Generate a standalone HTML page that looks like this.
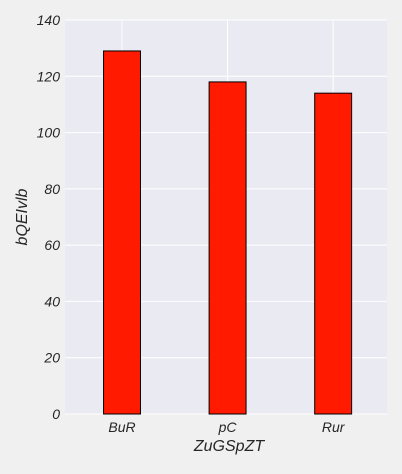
<!DOCTYPE html>
<html><head><meta charset="utf-8"><style>
body{margin:0;background:#f0f0f0;}
svg text{font-family:"Liberation Sans",sans-serif;font-style:italic;fill:#262626;}
</style></head><body>
<svg id="chart" width="402" height="469">
<rect x="0" y="0" width="402" height="469" fill="#f0f0f0"/>
<rect x="65" y="20" width="322" height="394" fill="#eaeaf2"/>
<g id="grid"></g><g id="bars"></g><g id="ticks"></g>
<text x="229" y="451" text-anchor="middle" font-size="16">ZuGSpZT</text>
<text transform="translate(27,217) rotate(-90)" text-anchor="middle" font-size="16">bQEIvlb</text>
</svg>
<script>
const categories=["BuR","pC","Rur"];
const values=[129,118,114];
const yTicks=[0,20,40,60,80,100,120,140];
const L=65,T=20,W=322,H=394,yMax=140,xMin=-0.54,xMax=2.51,barW=0.35;
const ns="http://www.w3.org/2000/svg";
function x(i){return L+(i-xMin)*W/(xMax-xMin);}
function y(v){return T+H-v*H/yMax;}
function mk(t,a,p){const e=document.createElementNS(ns,t);for(const k in a)e.setAttribute(k,a[k]);document.getElementById(p).appendChild(e);return e;}
yTicks.forEach(v=>{
 const g=mk('line',{x1:L,x2:L+W,y1:y(v),y2:y(v),stroke:'#fff','stroke-width':1},'grid');
 
 
 const t=mk('text',{x:L-5,y:y(v)+5,'text-anchor':'end','font-size':'14'},'ticks');
 t.textContent=v;
 
 
});
categories.forEach((c,i)=>{
 const g=mk('line',{x1:x(i),x2:x(i),y1:T,y2:T+H,stroke:'#fff','stroke-width':1},'grid');
 
 
 const bw=barW*W/(xMax-xMin);
 const b=mk('rect',{x:x(i)-bw/2,y:y(values[i]),width:bw,height:y(0)-y(values[i]),fill:'#ff1a00',stroke:'#000','stroke-width':1},'bars');
 
 
 const t=mk('text',{x:x(i),y:T+H+18,'text-anchor':'middle','font-size':'14'},'ticks');
 t.textContent=c;
 
 
});
</script>
</body></html>
